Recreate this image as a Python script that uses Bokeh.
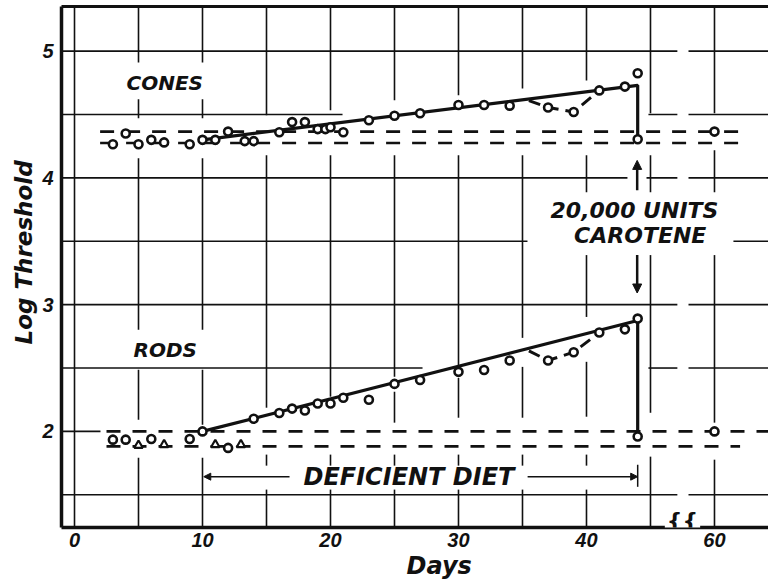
from bokeh.plotting import figure
from bokeh.models import (LinearAxis, FixedTicker, Label, Arrow, NormalHead, Range1d, Title)
from bokeh.embed import file_html
from bokeh.resources import INLINE

# ---------------- data ----------------
cone_days = [3, 4, 5, 6, 7, 9, 10, 11, 12, 13.3, 14, 16, 17, 18, 19, 19.6, 20, 21,
             23, 25, 27, 30, 32, 34, 37, 39, 41, 43, 44, 44, 60]
cone_log = [4.265, 4.35, 4.265, 4.30, 4.28, 4.265, 4.30, 4.30, 4.365, 4.29, 4.29,
            4.36, 4.44, 4.44, 4.385, 4.385, 4.40, 4.36, 4.455, 4.49, 4.51, 4.575,
            4.575, 4.57, 4.555, 4.52, 4.69, 4.72, 4.825, 4.305, 4.365]

rod_days = [3, 4, 6, 9, 10, 12, 14, 16, 17, 18, 19, 20, 21, 23, 25, 27, 30, 32, 34,
            37, 39, 41, 43, 44, 44, 60]
rod_log = [1.935, 1.935, 1.94, 1.94, 2.0, 1.87, 2.10, 2.145, 2.18, 2.165, 2.22, 2.22,
           2.265, 2.25, 2.375, 2.405, 2.47, 2.485, 2.56, 2.56, 2.625, 2.78, 2.805,
           2.89, 1.96, 2.0]

rod_tri_days = [5, 7, 11, 13]
rod_tri_log = [1.89, 1.895, 1.895, 1.895]

cone_fit_days = [10, 44, 44]
cone_fit_log = [4.30, 4.73, 4.305]
rod_fit_days = [10, 44, 44]
rod_fit_log = [2.0, 2.875, 1.96]

cone_dip_days = [35.5, 37, 39, 41]
cone_dip_log = [4.61, 4.555, 4.52, 4.69]
rod_dip_days = [35.5, 37, 39, 41]
rod_dip_log = [2.635, 2.56, 2.625, 2.78]

cone_band = [4.365, 4.275]
rod_band = [2.0, 1.882]

x_tick_days = [0, 10, 20, 30, 40, 60]
y_ticks = [2, 3, 4, 5]
diet_days = [10, 44]


def axis_pos(d):
    """broken axis: days beyond the break are drawn 10 days closer"""
    return d if d < 47 else d - 10


INK = "#111111"
FONT = "DejaVu Sans"

p = figure(width=768, height=579, output_backend="svg", toolbar_location=None,
           x_range=Range1d(-1.016, 54.22), y_range=Range1d(1.242, 5.352),
           min_border_left=61, min_border_right=0, min_border_top=6,
           min_border_bottom=51)
p.xgrid.visible = False
p.ygrid.visible = False
p.outline_line_color = None
p.background_fill_color = "white"
p.border_fill_color = "white"

# ---------------- grid drawn with gaps ----------------
T, B, L, R = 6.0, 1.0, -2.0, 60.0
vgrid = {
    0: [(B, T)],
    5: [(4.911, T), (4.470, 4.620), (2.801, 4.155), (2.092, 2.486), (B, 1.793)],
    10: [(4.911, T), (4.470, 4.620), (2.801, 4.155), (2.053, 2.486), (B, 1.793)],
    15: [(4.494, T), (2.187, 4.179), (1.730, 1.817), (B, 1.541)],
    20: [(4.533, T), (2.274, 4.179), (1.730, 1.817), (B, 1.541)],
    25: [(4.612, T), (2.431, 4.179), (2.069, 2.313), (1.730, 1.817), (B, 1.541)],
    30: [(4.651, T), (2.509, 4.179), (2.108, 2.422), (1.730, 1.817), (B, 1.541)],
    35: [(4.706, T), (2.738, 4.179), (2.108, 2.509), (1.730, 1.817), (B, 1.541)],
    40: [(4.769, T), (3.887, 4.179), (2.903, 3.391), (2.116, 2.549), (1.730, 1.817), (B, 1.541)],
    45: [(4.509, T), (3.887, 4.179), (2.147, 3.391), (B, 1.801)],
    50: [(4.509, T), (3.887, 4.218), (2.069, 3.391), (B, 1.777)],
}
hgrid = {
    5.0: [(L, 47.1), (47.97, R)],
    4.5: [(L, 20.94), (44.84, 47.1), (47.97, R)],
    4.0: [(L, 43.2), (44.69, 47.1), (47.97, R)],
    3.5: [(L, 35.39), (51.48, R)],
    3.0: [(L, 47.1), (47.97, R)],
    2.5: [(L, 27.19), (44.84, 47.1), (47.97, R)],
    2.0: [(L, 2.03)],
    1.5: [(L, 47.1), (47.97, R)],
}
gx0, gy0, gx1, gy1 = [], [], [], []
for x, segs in vgrid.items():
    for a, b in segs:
        gx0.append(x); gx1.append(x); gy0.append(a); gy1.append(b)
for y, segs in hgrid.items():
    for a, b in segs:
        gx0.append(a); gx1.append(b); gy0.append(y); gy1.append(y)
p.segment(gx0, gy0, gx1, gy1, line_color=INK, line_width=1.6)

# ---------------- normal-range bands (dashed) ----------------
band_spans = {cone_band[0]: (2.0, 52.0), cone_band[1]: (2.0, 52.0),
              rod_band[0]: (2.5, 56.0), rod_band[1]: (2.5, 52.0)}
for lvl, (x0, x1) in band_spans.items():
    p.line([x0, x1], [lvl, lvl], line_color=INK, line_width=2.6, line_dash="14 12")

# ---------------- fitted lines ----------------
p.line(cone_fit_days, cone_fit_log, line_color=INK, line_width=3.2)
p.line(rod_fit_days, rod_fit_log, line_color=INK, line_width=3.2)
p.line(cone_dip_days, cone_dip_log, line_color=INK, line_width=3, line_dash="12 7")
p.line(rod_dip_days, rod_dip_log, line_color=INK, line_width=3, line_dash="12 7")

# ---------------- points ----------------
p.scatter([axis_pos(d) for d in cone_days], cone_log, marker="circle", size=8,
          line_width=2.6, line_color=INK, fill_color="white")
p.scatter([axis_pos(d) for d in rod_days], rod_log, marker="circle", size=8,
          line_width=2.6, line_color=INK, fill_color="white")
p.scatter(rod_tri_days, rod_tri_log, marker="triangle", size=8.5,
          line_width=2.2, line_color=INK, fill_color="white")

# ---------------- axes ----------------
p.xaxis.ticker = FixedTicker(ticks=[axis_pos(d) for d in x_tick_days])
p.xaxis.major_label_overrides = {axis_pos(d): str(d) for d in x_tick_days}
p.yaxis.ticker = FixedTicker(ticks=y_ticks)
for ax in (p.xaxis[0], p.yaxis[0]):
    ax.axis_line_color = INK
    ax.axis_line_width = 3.5
    ax.major_tick_line_color = None
    ax.minor_tick_line_color = None
    ax.major_tick_out = 0
    ax.major_tick_in = 0
    ax.major_label_text_font = "Liberation Sans"
    ax.major_label_text_font_style = "bold italic"
    ax.major_label_text_font_size = "20px"
    ax.major_label_text_color = INK
p.xaxis.major_label_standoff = 5
p.yaxis.major_label_standoff = 8

top = LinearAxis(axis_line_color=INK, axis_line_width=3, major_tick_line_color=None,
                 minor_tick_line_color=None, major_label_text_font_size="0px",
                 major_label_standoff=0, major_tick_out=0, major_tick_in=0,
                 ticker=FixedTicker(ticks=[]))
p.add_layout(top, "above")

# axis titles as side titles, offset to where the reference has them
p.add_layout(Title(text="Days", align="left", offset=345, standoff=0,
                   text_font=FONT, text_font_style="bold italic",
                   text_font_size="24px", text_color=INK), "below")
p.add_layout(Title(text="Log Threshold", align="left", offset=183, standoff=6,
                   text_font=FONT, text_font_style="bold italic",
                   text_font_size="23px", text_color=INK), "left")

# ---------------- annotations ----------------
def lab(x, y, text, size, align="left"):
    p.add_layout(Label(x=x, y=y, text=text, text_font=FONT, text_font_style="bold italic",
                       text_font_size=size, text_color=INK, text_align=align,
                       text_baseline="middle"))

lab(4.06, 4.746, "CONES", "20px")
lab(4.61, 2.643, "RODS", "20px")
lab(43.75, 3.746, "20,000 UNITS", "22px", "center")
lab(44.2, 3.547, "CAROTENE", "22px", "center")
lab(26.13, 1.643, "DEFICIENT DIET", "24px", "center")

p.add_layout(Arrow(end=NormalHead(size=7, fill_color=INK, line_color=INK),
                   x_start=16.8, y_start=1.643, x_end=diet_days[0] + 0.1, y_end=1.643,
                   line_color=INK, line_width=1.5))
p.add_layout(Arrow(end=NormalHead(size=7, fill_color=INK, line_color=INK),
                   x_start=35.4, y_start=1.643, x_end=diet_days[1], y_end=1.643,
                   line_color=INK, line_width=1.5))
p.segment([diet_days[1]], [1.563], [diet_days[1]], [1.737], line_color=INK, line_width=1.5)

p.add_layout(Arrow(end=NormalHead(size=9, fill_color=INK, line_color=INK),
                   x_start=43.96, y_start=3.903, x_end=43.96, y_end=4.138,
                   line_color=INK, line_width=2.5))
p.add_layout(Arrow(end=NormalHead(size=9, fill_color=INK, line_color=INK),
                   x_start=43.96, y_start=3.391, x_end=43.96, y_end=3.092,
                   line_color=INK, line_width=2.5))

# axis-break mark
p.add_layout(Label(x=47.5, y=1.30, text="{{", text_font=FONT, text_font_style="bold",
                   text_font_size="22px", text_color=INK, text_align="center",
                   text_baseline="middle", background_fill_color="white", padding=2))

open("out.html", "w").write(file_html(p, INLINE))
